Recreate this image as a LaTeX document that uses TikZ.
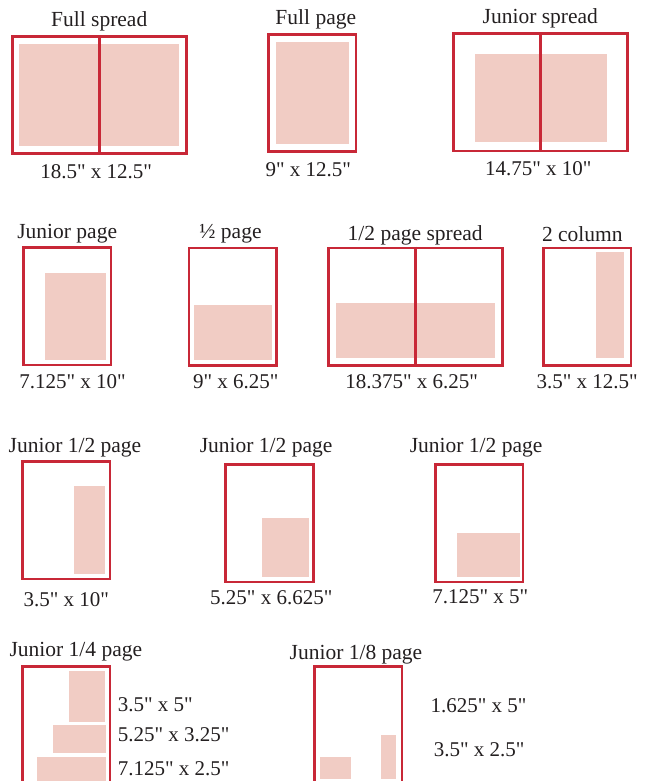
\documentclass[tikz,border=0pt]{standalone}
\usepackage{fontspec}
\setmainfont{Liberation Serif}[Ligatures=TeXOff]
\usetikzlibrary{positioning}
\definecolor{boxred}{RGB}{200,40,55}
\definecolor{adfill}{RGB}{241,204,196}
\definecolor{textcolor}{RGB}{35,31,32}
\tikzset{
pagebox/.style={
  draw=boxred,
  line width=2.6pt,
  inner sep=0pt,
  minimum width=87.5pt,
  minimum height=117.5pt
},
spreadbox/.style={
  pagebox,
  minimum width=174pt
},
adarea/.style={
  fill=adfill
},
gutter/.style={
  draw=boxred,
  line width=2.6pt
},
titlelabel/.style={
  font=\fontsize{21.5}{24}\selectfont,
  text=textcolor,
  inner sep=0pt,
  text height=15pt,
  text depth=5pt
},
sizelabel/.style={
  titlelabel,
  font=\fontsize{21}{24}\selectfont
}
}

\begin{document}
\begin{tikzpicture}[x=1pt, y=-1pt]
\useasboundingbox (0,0) rectangle (650,781);
\clip (0,0) rectangle (650,781);

% ------------------------------------------------------------
% Row 1
% ------------------------------------------------------------
\node[spreadbox] (fullspread) at (99.2,95) {};
\node[pagebox] (fullpage) at (312.2,93) {};
\node[spreadbox] (juniorspread) at (540.3,92.2) {};

\fill[adarea] (19.3,43.7) rectangle (179,146);
\fill[adarea] (276,41.7) rectangle (348.7,144);
\fill[adarea] (475,54) rectangle (606.7,141.7);

\draw[gutter] (fullspread.north) -- (fullspread.south);
\draw[gutter] (juniorspread.north) -- (juniorspread.south);

\node[titlelabel, above=3.7pt of fullspread] (fullspreadtitle) {Full spread};
\node[titlelabel, above=3pt of fullpage, xshift=3.6pt] (fullpagetitle) {Full page};
\node[titlelabel, above=3pt of juniorspread] (juniorspreadtitle) {Junior spread};

\node[sizelabel, below=8pt of fullspread, xshift=-3pt] (fullspreadsize) {18.5" x 12.5"};
\node[sizelabel, below=8pt of fullpage, xshift=-3.9pt] (fullpagesize) {9" x 12.5"};
\node[sizelabel, below=8.4pt of juniorspread, xshift=-2pt] (juniorspreadsize) {14.75" x 10"};

% ------------------------------------------------------------
% Row 2
% ------------------------------------------------------------
\node[pagebox] (juniorpage) at (67.2,306.4) {};
\node[pagebox] (halfpage) at (232.8,306.7) {};
\node[spreadbox] (halfspread) at (415.2,306.7) {};
\node[pagebox] (twocol) at (587.2,306.7) {};

\fill[adarea] (45,273) rectangle (106,359.7);
\fill[adarea] (194,305) rectangle (271.7,359.7);
\fill[adarea] (336,303) rectangle (495,357.7);
\fill[adarea] (596,251.7) rectangle (624,357.7);

\draw[gutter] (halfspread.north) -- (halfspread.south);

\node[titlelabel, above=2.2pt of juniorpage] (juniorpagetitle) {Junior page};
\node[titlelabel, above=2.7pt of halfpage, xshift=-2.3pt] (halfpagetitle) {½ page};
\node[titlelabel, above=1pt of halfspread] (halfspreadtitle) {1/2 page spread};
\node[titlelabel, above=0.4pt of twocol, xshift=-4.9pt] (twocoltitle) {2 column};

\node[sizelabel, below=7pt of juniorpage, xshift=5.3pt] (juniorpagesize) {7.125" x 10"};
\node[sizelabel, below=7pt of halfpage, xshift=3pt] (halfpagesize) {9" x 6.25"};
\node[sizelabel, below=7pt of halfspread, xshift=-3.5pt] (halfspreadsize) {18.375" x 6.25"};
\node[sizelabel, below=7pt of twocol] (twocolsize) {3.5" x 12.5"};

% ------------------------------------------------------------
% Row 3
% ------------------------------------------------------------
\node[pagebox] (jhalfa) at (66.3,520.3) {};
\node[pagebox] (jhalfb) at (269.5,523.3) {};
\node[pagebox] (jhalfc) at (479.2,523.3) {};

\fill[adarea] (74,486) rectangle (105.3,574);
\fill[adarea] (262,518) rectangle (308.5,576.7);
\fill[adarea] (456.5,533.3) rectangle (519.8,576.7);

\node[titlelabel, above=2.2pt of jhalfa, xshift=8.7pt] (jhalfatitle) {Junior 1/2 page};
\node[titlelabel, above=5.3pt of jhalfb, xshift=-3.4pt] (jhalfbtitle) {Junior 1/2 page};
\node[titlelabel, above=5.3pt of jhalfc, xshift=-3.1pt] (jhalfctitle) {Junior 1/2 page};

\node[sizelabel, below=10.7pt of jhalfa] (jhalfasize) {3.5" x 10"};
\node[sizelabel, below=6.4pt of jhalfb, xshift=1.8pt] (jhalfbsize) {5.25" x 6.625"};
\node[sizelabel, below=5.4pt of jhalfc, xshift=1pt] (jhalfcsize) {7.125" x 5"};

% ------------------------------------------------------------
% Row 4
% ------------------------------------------------------------
\node[pagebox] (jquarter) at (66.2,725.3) {};
\node[pagebox] (jeighth) at (358.2,725.5) {};

\fill[adarea] (69,671) rectangle (105.2,721.7);
\fill[adarea] (53.2,725) rectangle (106.4,752.7);
\fill[adarea] (37,757) rectangle (106.4,781);
\fill[adarea] (320,757) rectangle (350.5,778.7);
\fill[adarea] (381.3,735) rectangle (396.3,778.7);

\node[titlelabel, above=3.7pt of jquarter, xshift=9.7pt] (jquartertitle) {Junior 1/4 page};
\node[titlelabel, above=1.2pt of jeighth, xshift=-2.2pt] (jeighthtitle) {Junior 1/8 page};

\node[sizelabel, anchor=base west] (qsizea) at (117.7,711) {3.5" x 5"};
\node[sizelabel, anchor=base west] (qsizeb) at (117.7,741.7) {5.25" x 3.25"};
\node[sizelabel, anchor=base west] (qsizec) at (117.7,775.7) {7.125" x 2.5"};
\node[sizelabel, anchor=base west] (esizea) at (430.4,712.7) {1.625" x 5"};
\node[sizelabel, anchor=base west] (esizeb) at (433.7,756) {3.5" x 2.5"};

\end{tikzpicture}
\end{document}
